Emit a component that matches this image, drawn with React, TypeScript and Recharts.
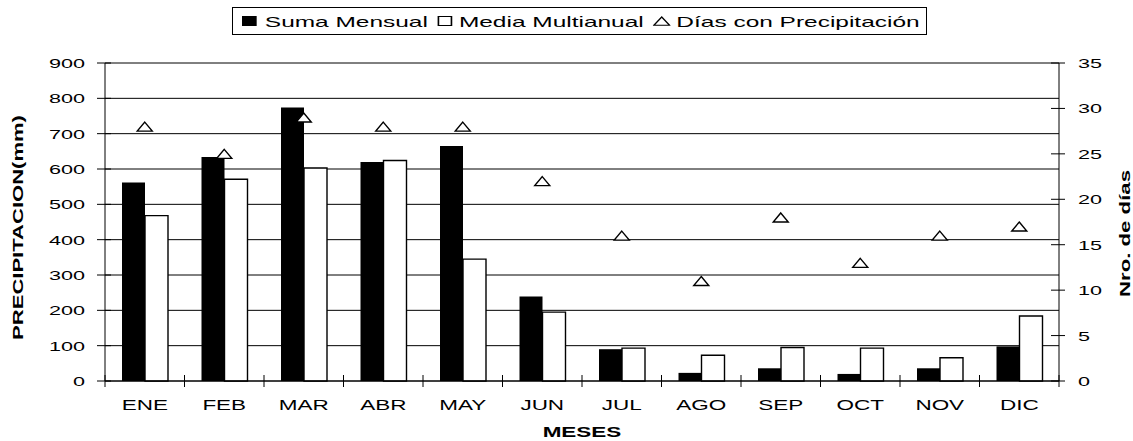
import React from 'react';
import { ComposedChart, Bar, Scatter, XAxis, YAxis, CartesianGrid } from 'recharts';

const meses = ['ENE', 'FEB', 'MAR', 'ABR', 'MAY', 'JUN', 'JUL', 'AGO', 'SEP', 'OCT', 'NOV', 'DIC'];
const sumaMensual = [562, 634, 774, 620, 665, 239, 90, 23, 36, 20, 36, 98];
const mediaMultianual = [468, 571, 603, 624, 345, 195, 93, 73, 95, 93, 66, 184];
const diasPrecipitacion = [28, 25, 29, 28, 28, 22, 16, 11, 18, 13, 16, 17];
const precipTicks = [0, 100, 200, 300, 400, 500, 600, 700, 800, 900];
const diasTicks = [0, 5, 10, 15, 20, 25, 30, 35];

const data = meses.map((m, i) => ({
  mes: m,
  suma: sumaMensual[i],
  media: mediaMultianual[i],
  dias: diasPrecipitacion[i],
}));

const W = 1133;
const H = 441;
const PLOT_LEFT = 105;
const PLOT_RIGHT = 1059;
const PLOT_TOP = 63;
const PLOT_BOTTOM = 381;
const BAND = (PLOT_RIGHT - PLOT_LEFT) / meses.length;
const FONT = '"Liberation Sans", Arial, Helvetica, sans-serif';

const LeftTick = (props: any) => {
  const { x, y, payload } = props;
  return (
    <g>
      <line x1={x - 8} x2={x + 6} y1={y} y2={y} stroke="#000" strokeWidth={1} />
      <text
        transform={`translate(${x - 20},${y + 5}) scale(1.6,1)`}
        textAnchor="end"
        fontSize={13.5}
        fontFamily={FONT}
        fill="#000"
      >
        {payload.value}
      </text>
    </g>
  );
};

const RightTick = (props: any) => {
  const { x, y, payload } = props;
  return (
    <g>
      <line x1={x - 8} x2={x + 6} y1={y} y2={y} stroke="#000" strokeWidth={1} />
      <text
        transform={`translate(${x + 19},${y + 5}) scale(1.6,1)`}
        textAnchor="start"
        fontSize={13.5}
        fontFamily={FONT}
        fill="#000"
      >
        {payload.value}
      </text>
    </g>
  );
};

const BottomTick = (props: any) => {
  const { x, y, payload, index } = props;
  return (
    <g>
      <line x1={x - BAND / 2} x2={x - BAND / 2} y1={y - 6} y2={y + 6} stroke="#000" strokeWidth={1} />
      {index === meses.length - 1 && (
        <line x1={x + BAND / 2} x2={x + BAND / 2} y1={y - 6} y2={y + 6} stroke="#000" strokeWidth={1} />
      )}
      <text
        transform={`translate(${x},${y + 28.5}) scale(1.5,1)`}
        textAnchor="middle"
        fontSize={15}
        fontFamily={FONT}
        fill="#000"
      >
        {payload.value}
      </text>
    </g>
  );
};

const MesesTitle = (props: any) => {
  const vb = props.viewBox || { x: PLOT_LEFT, y: PLOT_BOTTOM, width: PLOT_RIGHT - PLOT_LEFT };
  return (
    <text
      transform={`translate(${vb.x + vb.width / 2},${vb.y + 56}) scale(1.5,1)`}
      textAnchor="middle"
      fontSize={15}
      fontWeight="bold"
      fontFamily={FONT}
      fill="#000"
    >
      MESES
    </text>
  );
};

const PrecipTitle = () => (
  <text
    transform={`translate(23,227.5) rotate(-90) scale(1.47,1)`}
    textAnchor="middle"
    fontSize={15}
    fontWeight="bold"
    fontFamily={FONT}
    fill="#000"
  >
    PRECIPITACION(mm)
  </text>
);

const DiasTitle = () => (
  <text
    transform={`translate(1130,233.5) rotate(-90) scale(1.48,1)`}
    textAnchor="middle"
    fontSize={15}
    fontWeight="bold"
    fontFamily={FONT}
    fill="#000"
  >
    Nro. de días
  </text>
);

const Triangle = (props: any) => {
  const { cx, cy } = props;
  if (cx == null || cy == null) return null;
  const hw = 7.5;
  const hh = 4.5;
  return (
    <path
      d={`M${cx},${cy - hh} L${cx + hw},${cy + hh} L${cx - hw},${cy + hh} Z`}
      fill="#fff"
      stroke="#000"
      strokeWidth={1.4}
      strokeLinejoin="miter"
    />
  );
};

const Legend = () => (
  <div
    style={{
      position: 'absolute',
      left: 232,
      top: 7,
      width: 695,
      height: 28,
      border: '1px solid #000',
      boxSizing: 'border-box',
      background: '#fff',
      overflow: 'hidden',
    }}
  >
    <div
      style={{
        position: 'absolute',
        left: 9,
        top: 0,
        height: 26,
        display: 'flex',
        alignItems: 'center',
        whiteSpace: 'nowrap',
        fontFamily: FONT,
        fontSize: 15,
        color: '#000',
        transform: 'scaleX(1.63)',
        transformOrigin: 'left center',
      }}
    >
      <span style={{ display: 'inline-block', width: 9, height: 10, background: '#000', marginRight: 5 }} />
      <span>Suma Mensual</span>
      <span
        style={{
          display: 'inline-block',
          width: 9,
          height: 10,
          border: '1px solid #000',
          boxSizing: 'border-box',
          marginLeft: 6,
          marginRight: 4,
        }}
      />
      <span>Media Multianual</span>
      <svg width={11} height={10} style={{ marginLeft: 6, marginRight: 3 }}>
        <path d="M5.5,1 L10.3,9.2 L0.7,9.2 Z" fill="#fff" stroke="#000" strokeWidth={1} />
      </svg>
      <span>Días con Precipitación</span>
    </div>
  </div>
);

export default function App() {
  return (
    <div style={{ position: 'absolute', left: 0, top: 0, width: W, height: H, background: '#fff' }}>
      <ComposedChart
        width={W}
        height={H}
        data={data}
        margin={{ top: PLOT_TOP, right: 0, bottom: 0, left: 0 }}
        barGap={0}
        barCategoryGap="21%"
      >
        <CartesianGrid yAxisId="left" vertical={false} stroke="#000" strokeWidth={1} />
        <XAxis
          dataKey="mes"
          height={H - PLOT_BOTTOM}
          axisLine={{ stroke: '#000', strokeWidth: 1 }}
          tickLine={false}
          tickSize={0}
          tickMargin={0}
          tick={BottomTick}
          interval={0}
          label={{ value: 'MESES', content: MesesTitle }}
        />
        <YAxis
          yAxisId="left"
          orientation="left"
          width={PLOT_LEFT}
          domain={[0, 900]}
          ticks={precipTicks}
          interval={0}
          axisLine={{ stroke: '#000', strokeWidth: 1 }}
          tickLine={false}
          tickSize={0}
          tickMargin={0}
          tick={LeftTick}
          label={{ value: 'PRECIPITACION(mm)', content: PrecipTitle }}
        />
        <YAxis
          yAxisId="right"
          orientation="right"
          width={W - PLOT_RIGHT}
          domain={[0, 35]}
          ticks={diasTicks}
          interval={0}
          axisLine={{ stroke: '#000', strokeWidth: 1 }}
          tickLine={false}
          tickSize={0}
          tickMargin={0}
          tick={RightTick}
          label={{ value: 'Nro. de días', content: DiasTitle }}
        />
        <Bar yAxisId="left" dataKey="suma" name="Suma Mensual" fill="#000" barSize={23} isAnimationActive={false} />
        <Bar
          yAxisId="left"
          dataKey="media"
          name="Media Multianual"
          fill="#fff"
          stroke="#000"
          strokeWidth={1.4}
          barSize={23}
          isAnimationActive={false}
        />
        <Scatter
          yAxisId="right"
          dataKey="dias"
          name="Días con Precipitación"
          shape={Triangle}
          isAnimationActive={false}
        />
      </ComposedChart>
      <Legend />
    </div>
  );
}
